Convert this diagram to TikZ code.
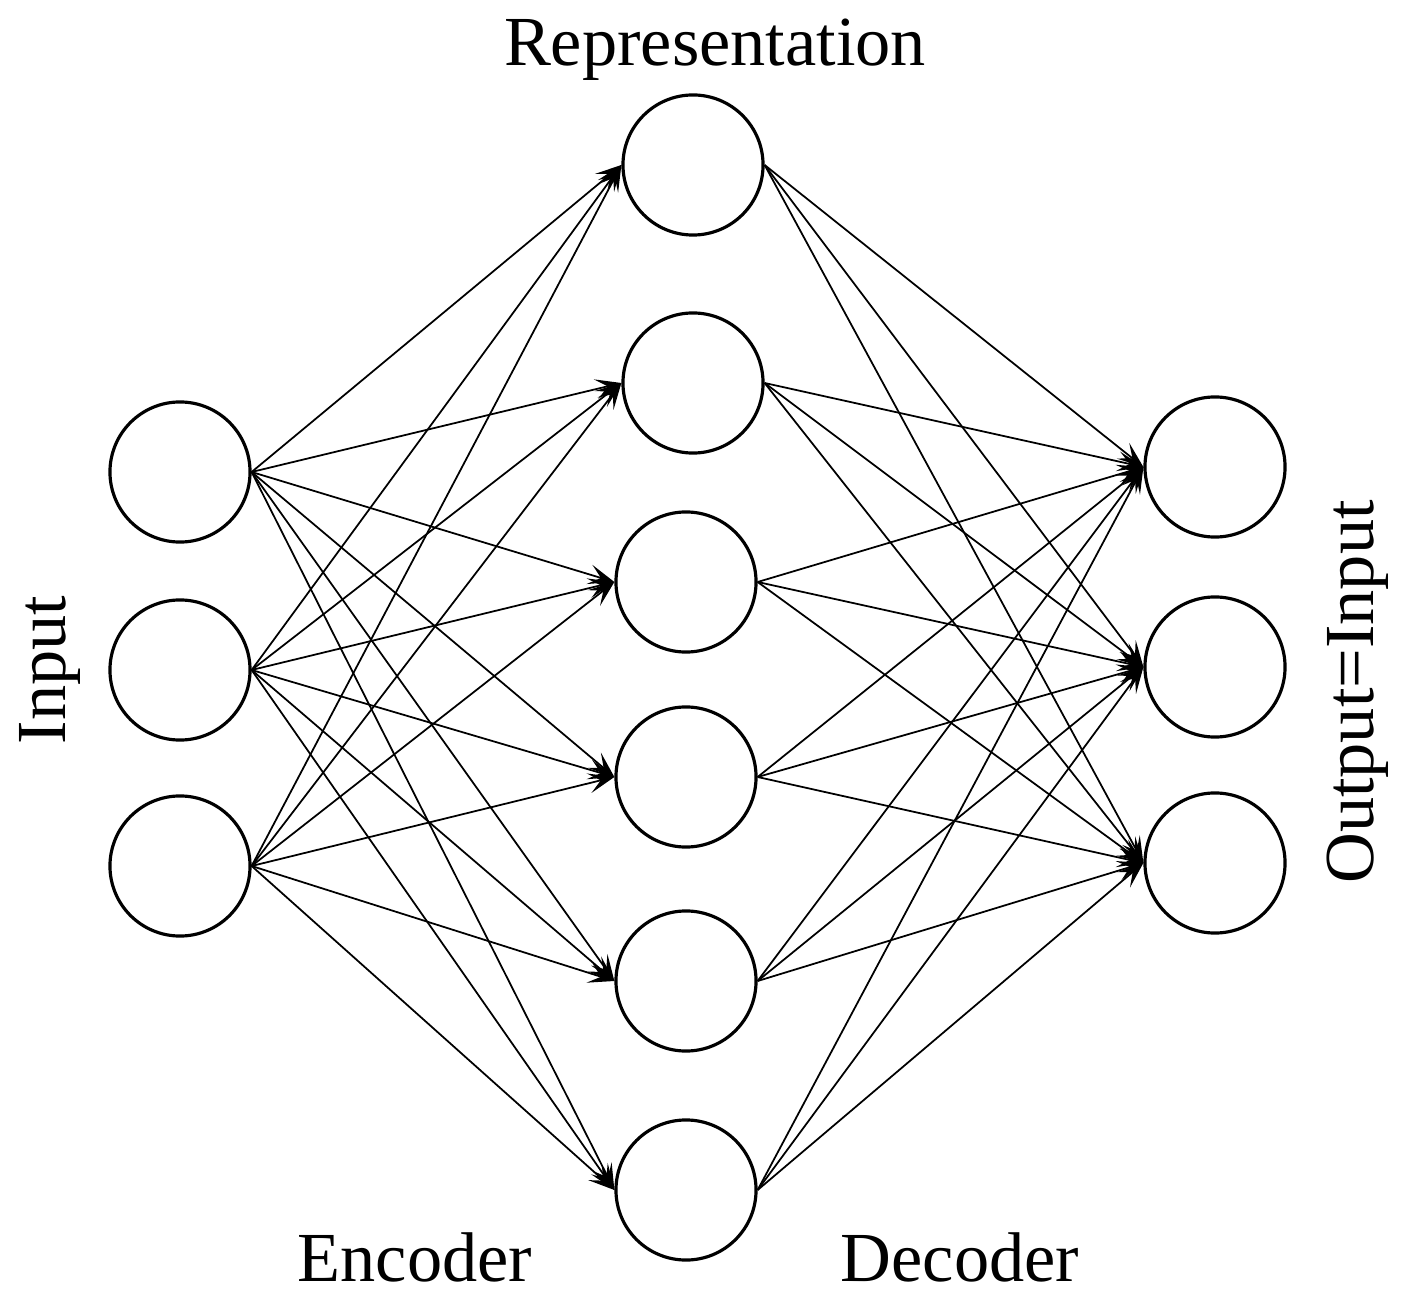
\documentclass[tikz,border=0pt]{standalone}
\usepackage{fontspec}
\setmainfont{Liberation Serif}
\usetikzlibrary{arrows.meta, positioning}

\begin{document}
\begin{tikzpicture}[
        x=0.01cm, y=-0.01cm,
        neuron/.style={circle, draw, line width=0.9pt, minimum size=1.4cm, inner sep=0pt},
        link/.style={-{Stealth[length=2.6mm, width=2mm, inset=1.2mm]}, line width=0.5pt},
        lbl/.style={font=\fontsize{20}{22}\selectfont}
    ]
        \useasboundingbox (0,0) rectangle (1416,1304);

        % Input layer
        \node[neuron] (in1) at (180,472) {};
        \node[neuron] (in2) at (180,670) {};
        \node[neuron] (in3) at (180,866) {};

        % Representation layer
        \node[neuron] (h1) at (693,165) {};
        \node[neuron] (h2) at (693,383) {};
        \node[neuron] (h3) at (686,582) {};
        \node[neuron] (h4) at (686,777) {};
        \node[neuron] (h5) at (686,981) {};
        \node[neuron] (h6) at (686,1190) {};

        % Output layer
        \node[neuron] (out1) at (1215,467) {};
        \node[neuron] (out2) at (1215,667) {};
        \node[neuron] (out3) at (1215,863) {};

        % Labels
        \node[lbl] (rep) at (715,50) {Representation};
        \node[lbl, rotate=90] (inp) at (50,670) {Input};
        \node[lbl, rotate=90] (outp) at (1358,692) {Output=Input};
        \node[lbl] (enc) at (415,1257) {Encoder};
        \node[lbl] (dec) at (960,1257) {Decoder};

        % Encoder links
        \foreach \i in {1,2,3}
            \foreach \j in {1,...,6}
                \draw[link] (in\i.east) -- (h\j.west);

        % Decoder links
        \foreach \j in {1,...,6}
            \foreach \k in {1,2,3}
                \draw[link] (h\j.east) -- (out\k.west);
    \end{tikzpicture}
\end{document}
